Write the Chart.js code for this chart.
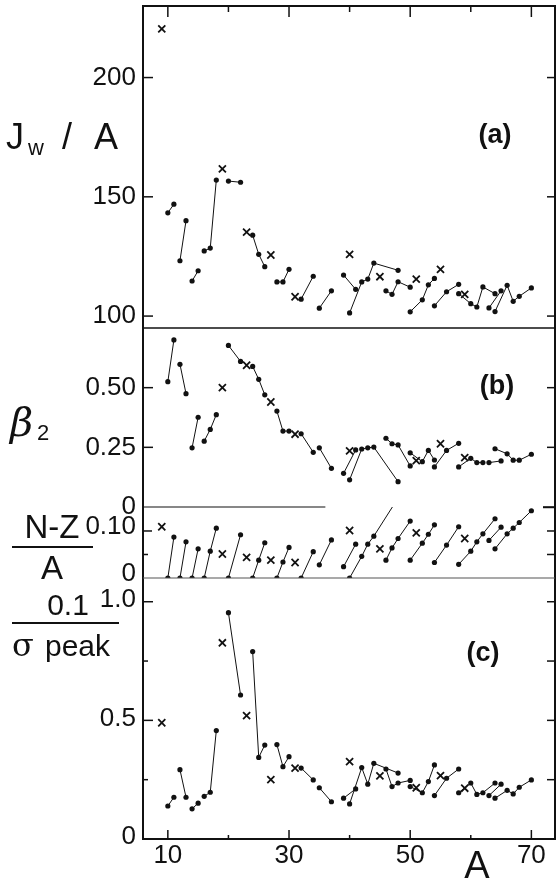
<!DOCTYPE html>
<html>
<head>
<meta charset="utf-8">
<script src="https://cdn.jsdelivr.net/npm/chart.js@4.4.0/dist/chart.umd.min.js"></script>
<style>
  body { margin: 0; background: #fff; }
  #wrap { position: relative; width: 556px; height: 884px; }
</style>
</head>
<body>
<div id="wrap"><canvas id="chart" width="556" height="884"></canvas></div>
<script>
// mass numbers of the isotope chains, null ends one element and starts the next
const chainMass = [
  10, 11, null, 12, 13, null, 14, 15, null, 16, 17, 18, null, 20, 22, null,
  24, 25, 26, null, 28, 29, 30, null, 32, 34, null, 35, 37, null, 39, 41, null,
  40, 42, 43, 44, 48, null, 46, 47, 48, 50, null, 50, 52, 53, 54, null, 54, 56, 58, null,
  58, 60, 61, 62, 64, null, 63, 65, null, 64, 66, 67, 68, 70
];
// (a) Jw/A
const jwChain = [
  143.3, 146.9, null, 123.2, 140, null, 114.7, 119, null, 127.3, 128.5, 157, null, 156.6, 156.1, null,
  133.9, 125.9, 120.7, null, 114.3, 114.3, 119.6, null, 107.1, 116.7, null, 103.3, 110.6, null, 117.2, 111.2, null,
  101.3, 114.3, 115.5, 122.2, 119.2, null, 110.6, 109.1, 114.4, 112.1, null, 101.8, 106.8, 113.1, 115.8, null, 104.3, 110.2, 113.3, null,
  109.4, 105.2, 103.8, 112.2, 109.4, null, 103.4, 110.6, null, 101.9, 112.9, 106.2, 108.3, 111.8
];
// (b) beta2
const betaChain = [
  0.525, 0.70, null, 0.598, 0.475, null, 0.248, 0.376, null, 0.276, 0.325, 0.387, null, 0.677, 0.61, null,
  0.589, 0.535, 0.47, null, 0.402, 0.318, 0.318, null, 0.307, 0.229, null, 0.248, 0.162, null, 0.141, 0.239, null,
  0.114, 0.243, 0.248, 0.251, 0.106, null, 0.288, 0.265, 0.26, 0.172, null, 0.227, 0.19, 0.237, 0.197, null, 0.168, 0.237, 0.267, null,
  0.168, 0.204, 0.186, 0.186, null, null, 0.186, 0.193, null, 0.244, 0.223, 0.196, 0.196, 0.221
];
// (N-Z)/A
const nzChain = [
  0, 0.087, null, 0, 0.077, null, 0, 0.062, null, 0, 0.057, 0.106, null, 0, 0.092, null,
  0, 0.038, 0.075, null, 0, 0.034, 0.065, null, 0, 0.056, null, 0.028, 0.081, null, 0.024, 0.072, null,
  0, 0.046, 0.072, 0.089, 0.17, null, 0.038, 0.064, 0.084, 0.121, null, 0.038, 0.074, 0.093, 0.113, null, 0.033, 0.07, 0.109, null,
  0.029, 0.057, 0.077, 0.094, 0.126, null, 0.08, 0.108, null, 0.062, 0.094, 0.106, 0.118, 0.143
];
// (c) 0.1/sigma peak
const sigChain = [
  0.139, 0.176, null, 0.292, 0.176, null, 0.127, 0.151, null, 0.18, 0.197, 0.457, null, 0.954, 0.607, null,
  0.79, 0.344, 0.396, null, 0.398, 0.305, 0.347, null, 0.299, 0.249, null, 0.216, 0.157, null, 0.172, 0.211, null,
  0.148, 0.301, 0.231, 0.319, 0.278, null, 0.295, 0.221, 0.236, 0.247, null, 0.221, 0.195, 0.242, 0.312, null, 0.183, 0.256, 0.295, null,
  0.195, 0.236, 0.188, 0.195, 0.236, null, 0.183, 0.231, null, 0.172, 0.205, 0.19, 0.218, 0.249
];

// single-isotope elements (crosses)
const crossMass = [9, 19, 23, 27, 31, 40, 45, 51, 55, 59];
const jwCross = [220.4, 161.7, 135.2, 125.6, 108.1, 125.9, 116.5, 115.5, 119.6, 109.1];
const betaCross = [null, 0.50, 0.594, 0.44, 0.305, 0.235, null, 0.194, 0.265, 0.207];
const nzCross = [0.109, 0.051, 0.044, 0.038, 0.033, 0.101, 0.062, 0.096, null, 0.084];
const sigCross = [0.49, 0.827, 0.52, 0.25, 0.299, 0.326, 0.266, 0.216, 0.267, 0.214];

// axis ticks
const xLabelVals = [10, 30, 50, 70];
const xMajor = [10, 30, 50, 70];
const xMinor = [20, 40, 60];
const jwTicks = [100, 150, 200];
const jwTickText = ['100', '150', '200'];
const betaTicks = [0, 0.25, 0.5];
const betaTickText = ['0', '0.25', '0.50'];
const nzTicks = [0, 0.1];
const nzTickText = ['0', '0.10'];
const sigTicks = [0, 0.5, 1.0];
const sigTickText = ['0', '0.5', '1.0'];

const INK = '#111';
const FONT = "'Liberation Sans', Arial, sans-serif";

function pts(xs, ys) {
  return xs.map((m, i) => ({ x: m, y: ys[i] }));
}

function chainSet(ys, axis) {
  return {
    type: 'line', yAxisID: axis, data: pts(chainMass, ys),
    borderColor: INK, borderWidth: 1, spanGaps: false, tension: 0,
    pointStyle: 'circle', pointRadius: 2.6, pointBackgroundColor: INK, pointBorderColor: INK, pointBorderWidth: 0
  };
}

function crossSet(ys, axis) {
  return {
    type: 'line', yAxisID: axis, data: pts(crossMass, ys), showLine: false,
    pointStyle: 'crossRot', pointRadius: 5, pointBorderColor: INK, pointBorderWidth: 1.8
  };
}

function yScale(min, max, weight, order, vals, text, offset) {
  return {
    type: 'linear', position: 'left', stack: 'panels', stackWeight: weight, weight: order,
    min: min, max: max, bounds: 'data',
    grid: { display: false, drawTicks: false },
    border: { display: false },
    afterBuildTicks: s => { s.ticks = vals.map(v => ({ value: v })); },
    afterFit: s => { s.width = 143; s.paddingTop = 0; s.paddingBottom = 0; },
    ticks: {
      autoSkip: false, padding: 7, color: INK, labelOffset: offset,
      font: { family: FONT, size: 26 },
      callback: (v, i) => text[i]
    }
  };
}

const frame = {
  id: 'frame',
  afterDraw(chart) {
    const { ctx, chartArea: ca } = chart;
    const s = chart.scales;
    const line = (x1, y1, x2, y2) => { ctx.beginPath(); ctx.moveTo(x1, y1); ctx.lineTo(x2, y2); ctx.stroke(); };
    ctx.save();
    ctx.strokeStyle = INK;
    ctx.lineWidth = 2;
    ctx.strokeRect(ca.left, ca.top, ca.right - ca.left, ca.bottom - ca.top);

    // panel dividers
    ctx.lineWidth = 1.5;
    line(ca.left, s.b.top, ca.right, s.b.top);
    ctx.lineWidth = 1.2;
    line(ca.left, s.nz.top, s.x.getPixelForValue(36), s.nz.top);
    ctx.strokeStyle = '#555';
    line(ca.left, s.c.top, ca.right, s.c.top);
    ctx.strokeStyle = INK;

    // inward ticks on top and bottom
    ctx.lineWidth = 1.5;
    xMajor.forEach(v => {
      const px = s.x.getPixelForValue(v);
      line(px, ca.top, px, ca.top + 11);
      line(px, ca.bottom, px, ca.bottom - 9);
    });
    xMinor.forEach(v => {
      const px = s.x.getPixelForValue(v);
      line(px, ca.top, px, ca.top + 6);
      line(px, ca.bottom, px, ca.bottom - 4);
    });

    // inward ticks on left and right
    const yt = (sc, vals, lenL, lenR) => vals.forEach(v => {
      const py = sc.getPixelForValue(v);
      if (lenL) line(ca.left, py, ca.left + lenL, py);
      if (lenR) line(ca.right, py, ca.right - lenR, py);
    });
    yt(s.a, [100, 150, 200], 10, 8);
    yt(s.b, [0.25, 0.5], 10, 8);
    yt(s.b, [0], 0, 12);
    yt(s.nz, [0.1], 9, 8);
    yt(s.nz, [0.05], 5, 8);
    yt(s.nz, [0.15], 0, 12);
    yt(s.c, [0.5, 1.0], 10, 8);
    yt(s.c, [0.25, 0.75], 5, 8);

    // panel letters
    ctx.fillStyle = INK;
    ctx.textAlign = 'center';
    ctx.textBaseline = 'middle';
    ctx.font = "bold 27px 'Liberation Sans Narrow', 'Liberation Sans', Arial, sans-serif";
    ctx.fillText('(a)', 495, 136);
    ctx.fillText('(b)', 497, 387);
    ctx.fillText('(c)', 483, 654);

    // x title
    ctx.font = '38px ' + FONT;
    ctx.fillText('A', 477, 868);

    // y titles
    ctx.textAlign = 'left';
    ctx.textBaseline = 'alphabetic';
    ctx.font = '36px ' + FONT;
    ctx.fillText('J', 6, 149);
    ctx.font = '22px ' + FONT;
    ctx.fillText('w', 28, 155);
    ctx.font = '36px ' + FONT;
    ctx.fillText('/', 62, 149);
    ctx.fillText('A', 94, 149);

    ctx.font = 'italic 40px DejaVu Serif, serif';
    ctx.fillText('\u03B2', 10, 436);
    ctx.font = '22px ' + FONT;
    ctx.fillText('2', 37, 440);

    ctx.textAlign = 'center';
    ctx.font = '33px ' + FONT;
    ctx.fillText('N-Z', 52, 538);
    ctx.fillText('A', 52, 579);
    ctx.lineWidth = 2;
    line(12, 547, 93, 547);

    ctx.font = '30px ' + FONT;
    ctx.fillText('0.1', 68, 615);
    line(12, 623, 119, 623);
    ctx.textAlign = 'left';
    ctx.font = '32px DejaVu Serif, serif';
    ctx.fillText('\u03C3', 12, 656);
    ctx.font = '30px ' + FONT;
    ctx.fillText('peak', 45, 656);
    ctx.restore();
  }
};

new Chart(document.getElementById('chart'), {
  type: 'line',
  data: {
    datasets: [
      chainSet(jwChain, 'a'), crossSet(jwCross, 'a'),
      chainSet(betaChain, 'b'), crossSet(betaCross, 'b'),
      chainSet(nzChain, 'nz'), crossSet(nzCross, 'nz'),
      chainSet(sigChain, 'c'), crossSet(sigCross, 'c')
    ]
  },
  options: {
    responsive: false,
    animation: false,
    devicePixelRatio: 1,
    layout: { autoPadding: false, padding: { top: 6, right: 1, left: 0, bottom: 0 } },
    plugins: { legend: { display: false }, tooltip: { enabled: false } },
    scales: {
      x: {
        type: 'linear', position: 'bottom', min: 5.9, max: 73.9,
        grid: { display: false, drawTicks: false },
        border: { display: false },
        afterBuildTicks: s => { s.ticks = xLabelVals.map(v => ({ value: v })); },
        afterFit: s => { s.height = 45; s.paddingLeft = 0; s.paddingRight = 0; },
        ticks: { autoSkip: false, maxRotation: 0, padding: 1, color: INK, font: { family: FONT, size: 26 } }
      },
      c: yScale(0, 1.1, 261, 1, sigTicks, sigTickText, -2),
      nz: yScale(0, 0.151, 71, 2, nzTicks, nzTickText, -4),
      b: yScale(0, 0.75, 179, 3, betaTicks, betaTickText, 0),
      a: yScale(95, 230, 322, 4, jwTicks, jwTickText, 0)
    }
  },
  plugins: [frame]
});
</script>
</body>
</html>
